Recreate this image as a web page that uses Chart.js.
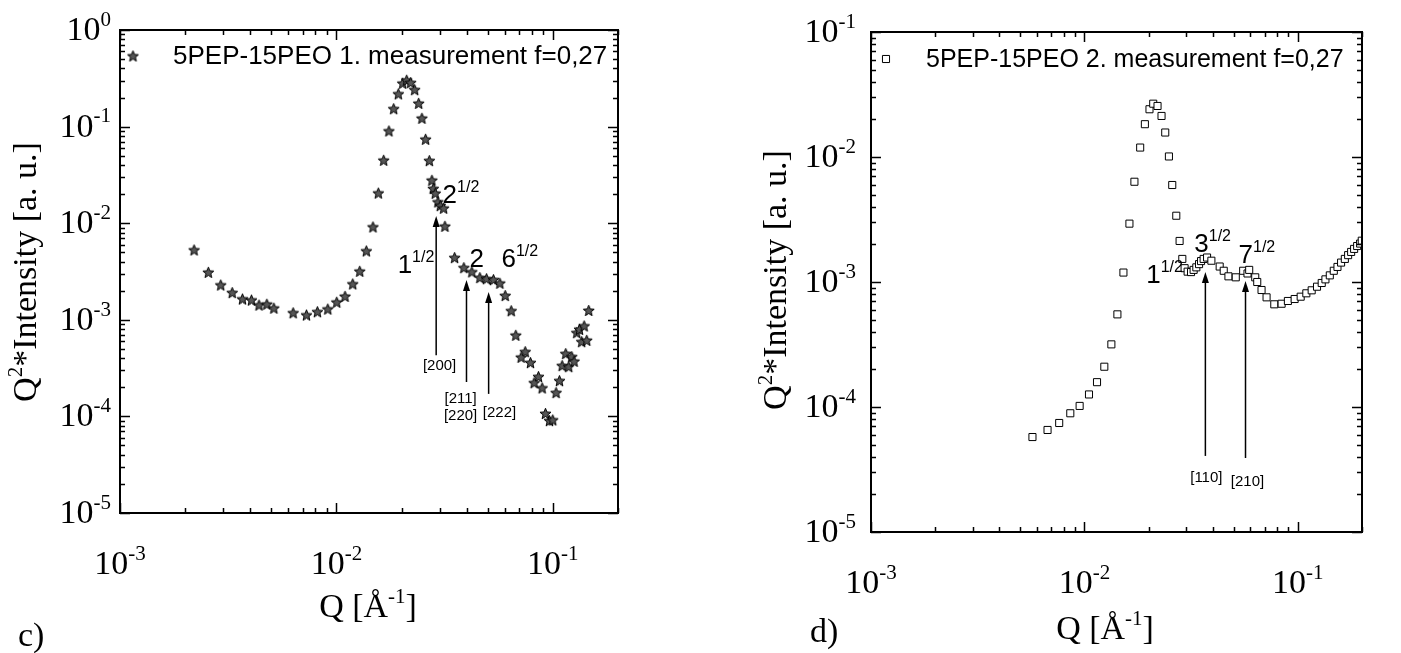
<!DOCTYPE html>
<html>
<head>
<meta charset="utf-8">
<script src="https://cdn.jsdelivr.net/npm/chart.js@4/dist/chart.umd.min.js"></script>
<style>
  html, body { margin: 0; padding: 0; background: #fff; }
  #wrap { position: relative; width: 1401px; height: 653px; }
  #chartC { position: absolute; left: 0; top: 0; }
  #chartD { position: absolute; left: 700px; top: 0; }
</style>
</head>
<body>
<div id="wrap">
  <canvas id="chartC" width="700" height="653"></canvas>
  <canvas id="chartD" width="701" height="653"></canvas>
</div>
<script>
// c) 1. measurement, Q [1/A] and Q^2*I
const qC = [0.00220, 0.00256, 0.00292, 0.00330, 0.00368, 0.00405, 0.00439, 0.00477, 0.00514, 0.00631,
  0.00727, 0.00817, 0.00912, 0.01003, 0.01096, 0.01189, 0.01281, 0.01375, 0.01475, 0.01562,
  0.01653, 0.01748, 0.01838, 0.01932, 0.02023, 0.02111, 0.02203, 0.02298, 0.02398, 0.02483,
  0.02583, 0.02687, 0.02762, 0.02803, 0.02863, 0.02944, 0.03020, 0.03127, 0.03171, 0.03515,
  0.03880, 0.04223, 0.04599, 0.04938, 0.05317, 0.05689, 0.06025, 0.06421, 0.06742, 0.07451,
  0.07140, 0.07880, 0.08584, 0.08198, 0.08925, 0.09243, 0.09645, 0.09988, 0.1035, 0.1073,
  0.1104, 0.1147, 0.1184, 0.1223, 0.1254, 0.1289, 0.1327, 0.1395, 0.1359, 0.1434, 0.1465];
const iC = [0.00528, 0.00310, 0.00229, 0.00191, 0.00164, 0.00160, 0.00142, 0.00145, 0.00132, 0.00118,
  0.00112, 0.00121, 0.00129, 0.00152, 0.00175, 0.00235, 0.00318, 0.00516, 0.00914, 0.0205,
  0.0448, 0.0901, 0.153, 0.218, 0.281, 0.302, 0.285, 0.241, 0.174, 0.122,
  0.0739, 0.0444, 0.0278, 0.0228, 0.0204, 0.0166, 0.0152, 0.0143, 0.00929, 0.00440,
  0.00346, 0.00313, 0.00273, 0.00266, 0.00260, 0.00239, 0.00178, 0.00124, 0.000691, 0.000467,
  0.000409, 0.000360, 0.000258, 0.000223, 0.000197, 0.000107, 0.0000903, 0.0000918, 0.000176, 0.000234,
  0.000335, 0.000446, 0.000327, 0.000415, 0.000372, 0.000735, 0.000797, 0.000863, 0.000593, 0.000613, 0.00125];

// d) 2. measurement
const qD = [0.00571, 0.00672, 0.00762, 0.00859, 0.00950, 0.01051, 0.01146, 0.01240, 0.01338, 0.01428,
  0.01524, 0.01626, 0.01716, 0.01826, 0.01921, 0.02019, 0.02102, 0.02202, 0.02299, 0.02393,
  0.02490, 0.02581, 0.02696, 0.02794, 0.02877, 0.02949, 0.03047, 0.03161, 0.03251, 0.03347,
  0.03447, 0.03522, 0.03622, 0.03758, 0.03937, 0.04306, 0.04498, 0.04733, 0.05122, 0.05548,
  0.05814, 0.05921, 0.06320, 0.06458, 0.06765, 0.07142, 0.07762, 0.08401, 0.08991, 0.09669,
  0.1032, 0.1097, 0.1162, 0.1231, 0.1295, 0.1348, 0.1413, 0.1475, 0.1535, 0.1596,
  0.1662, 0.1722, 0.1779, 0.1837, 0.1898, 0.1960, 0.1995];
const iD = [5.75e-5, 6.55e-5, 7.45e-5, 8.91e-5, 1.02e-4, 1.26e-4, 1.58e-4, 2.10e-4, 3.17e-4, 5.51e-4,
  1.19e-3, 2.93e-3, 6.34e-3, 0.0119, 0.0183, 0.0241, 0.0267, 0.0256, 0.0213, 0.0157,
  0.0101, 5.97e-3, 3.39e-3, 2.13e-3, 1.53e-3, 1.29e-3, 1.21e-3, 1.20e-3, 1.25e-3, 1.31e-3,
  1.39e-3, 1.47e-3, 1.53e-3, 1.57e-3, 1.48e-3, 1.33e-3, 1.23e-3, 1.11e-3, 1.09e-3, 1.23e-3,
  1.17e-3, 1.25e-3, 1.09e-3, 1.00e-3, 8.63e-4, 7.54e-4, 6.63e-4, 6.70e-4, 7.05e-4, 7.31e-4,
  7.63e-4, 8.12e-4, 8.58e-4, 9.17e-4, 9.82e-4, 1.05e-3, 1.13e-3, 1.23e-3, 1.32e-3, 1.43e-3,
  1.53e-3, 1.64e-3, 1.74e-3, 1.84e-3, 1.94e-3, 2.03e-3, 2.14e-3];

const legendC = '5PEP-15PEO 1. measurement f=0,27';
const legendD = '5PEP-15PEO 2. measurement f=0,27';

// arrows: [q, tail intensity, head intensity]
const arrowsC = [[0.0289, 4.3e-4, 0.0119], [0.0399, 2.27e-4, 2.58e-3], [0.0505, 1.71e-4, 1.94e-3]];
const arrowsD = [[0.0369, 4.06e-5, 1.20e-3], [0.0569, 3.91e-5, 1.02e-3]];
// peak ratios: [base, superscript, q, intensity] (left/baseline of the base text)
const ratiosC = [['1', '1/2', 0.01918, 3.05e-3], ['2', '1/2', 0.03095, 0.01619], ['2', '', 0.04122, 3.52e-3], ['6', '1/2', 0.05791, 3.52e-3]];
const ratiosD = [['1', '1/2', 0.01949, 9.82e-4], ['3', '1/2', 0.03275, 1.738e-3], ['7', '1/2', 0.05277, 1.419e-3]];
// Miller indices: [text, q, intensity] (centre)
const millerC = [['[200]', 0.02997, 3.33e-4], ['[211]', 0.03747, 1.51e-4], ['[220]', 0.03747, 1.009e-4], ['[222]', 0.0567, 1.084e-4]];
const millerD = [['[110]', 0.03729, 2.70e-5], ['[210]', 0.05814, 2.51e-5]];

const SERIF = '"Liberation Serif", "Times New Roman", serif';
const SANS = '"Liberation Sans", Arial, sans-serif';

function starImage() {
    let c = document.createElement('canvas');
    c.width = 13; c.height = 13;
    let g = c.getContext('2d');
    g.beginPath();
    for (let k = 0; k < 10; k++) {
        let r = k % 2 === 0 ? 5.8 : 2.5;
        let a = -Math.PI / 2 + k * Math.PI / 5;
        let px = 6.5 + r * Math.cos(a), py = 7 + r * Math.sin(a);
        if (k === 0) g.moveTo(px, py); else g.lineTo(px, py);
    }
    g.closePath();
    g.fillStyle = '#555';
    g.fill();
    g.strokeStyle = '#000';
    g.lineWidth = 1;
    g.stroke();
    return c;
}

// draw text pieces with superscripts, returns total width
function drawRich(ctx, x, y, segs, size, family, align) {
    let supSize = Math.round(size * 0.62);
    let w = 0;
    segs.forEach((s) => {
        ctx.font = (s.sup ? supSize : size) + 'px ' + family;
        s.w = ctx.measureText(s.t).width;
        w += s.w;
    });
    let cx = x;
    if (align === 'center') cx = x - w / 2;
    if (align === 'right') cx = x - w;
    ctx.textAlign = 'left';
    ctx.textBaseline = 'alphabetic';
    segs.forEach((s) => {
        ctx.font = (s.sup ? supSize : size) + 'px ' + family;
        ctx.fillText(s.t, cx, s.sup ? y - size * 0.42 : y);
        cx += s.w;
    });
    return w;
}

function logTicks(min, max) {
    let out = [];
    for (let d = Math.floor(Math.log10(min)); d <= Math.ceil(Math.log10(max)); d++) {
        for (let k = 1; k <= 9; k++) {
            let v = k * Math.pow(10, d);
            if (v >= min * 0.999 && v <= max * 1.001) out.push({ v: v, major: k === 1, exp: d });
        }
    }
    return out;
}

const framePlugin = {
    id: 'frame',
    afterDraw(chart, args, o) {
        const ctx = chart.ctx;
        const a = chart.chartArea;
        const x = chart.scales.x, y = chart.scales.y;
        ctx.save();
        ctx.strokeStyle = '#000';
        ctx.fillStyle = '#000';
        ctx.lineWidth = 1.5;
        ctx.beginPath();
        logTicks(x.min, x.max).forEach((t) => {
            let px = Math.round(x.getPixelForValue(t.v)) + 0.5;
            let len = t.major ? 10 : 5;
            ctx.moveTo(px, a.bottom); ctx.lineTo(px, a.bottom - len);
            ctx.moveTo(px, a.top); ctx.lineTo(px, a.top + len);
        });
        logTicks(y.min, y.max).forEach((t) => {
            let py = Math.round(y.getPixelForValue(t.v)) + 0.5;
            let len = t.major ? 10 : 5;
            ctx.moveTo(a.left, py); ctx.lineTo(a.left + len, py);
            ctx.moveTo(a.right, py); ctx.lineTo(a.right - len, py);
        });
        ctx.stroke();
        ctx.lineWidth = 2;
        ctx.strokeRect(a.left, a.top, a.right - a.left, a.bottom - a.top);

        // tick labels
        logTicks(x.min, x.max).filter((t) => t.major).forEach((t) => {
            drawRich(ctx, x.getPixelForValue(t.v), o.xLabelY, [{ t: '10' }, { t: String(t.exp), sup: true }], o.fontSize, SERIF, 'center');
        });
        logTicks(y.min, y.max).filter((t) => t.major).forEach((t) => {
            drawRich(ctx, o.yLabelX, y.getPixelForValue(t.v) + o.yLabelDy, [{ t: '10' }, { t: String(t.exp), sup: true }], o.fontSize, SERIF, 'right');
        });

        // axis titles
        drawRich(ctx, o.xTitle[0], o.xTitle[1], [{ t: 'Q [\u00C5' }, { t: '-1', sup: true }, { t: ']' }], o.titleSize, SERIF, 'center');
        ctx.save();
        ctx.translate(o.yTitle[0], o.yTitle[1]);
        ctx.rotate(-Math.PI / 2);
        drawRich(ctx, 0, 0, [{ t: 'Q' }, { t: '2', sup: true }, { t: '*Intensity [a. u.]' }], o.titleSize, SERIF, 'center');
        ctx.restore();
        ctx.font = o.titleSize + 'px ' + SERIF;
        ctx.textAlign = 'left';
        ctx.fillText(o.panel, o.panelPos[0], o.panelPos[1]);

        // legend
        const ds = chart.data.datasets[0];
        ctx.fillStyle = ds.backgroundColor;
        ctx.lineWidth = 1;
        Chart.helpers.drawPoint(ctx, {
            pointStyle: ds.pointStyle, radius: ds.pointRadius, borderWidth: 1
        }, a.left + o.legendMarkX, a.top + o.legendY);
        ctx.fillStyle = '#000';
        ctx.font = o.legendSize + 'px ' + SANS;
        ctx.textAlign = 'left';
        ctx.textBaseline = 'middle';
        ctx.fillText(ds.label, a.left + o.legendTextX, a.top + o.legendY + 1);

        // arrows
        ctx.lineWidth = 1.5;
        o.arrows.forEach((ar) => {
            let px = x.getPixelForValue(ar[0]);
            let y0 = y.getPixelForValue(ar[1]), y1 = y.getPixelForValue(ar[2]);
            ctx.beginPath();
            ctx.moveTo(px, y0); ctx.lineTo(px, y1 + 8);
            ctx.stroke();
            ctx.beginPath();
            ctx.moveTo(px, y1); ctx.lineTo(px - 3.5, y1 + 11); ctx.lineTo(px + 3.5, y1 + 11);
            ctx.closePath();
            ctx.fill();
        });
        o.ratios.forEach((r) => {
            let segs = [{ t: r[0] }];
            if (r[1]) segs.push({ t: r[1], sup: true });
            drawRich(ctx, x.getPixelForValue(r[2]), y.getPixelForValue(r[3]), segs, 26, SANS, 'left');
        });
        ctx.font = '15px ' + SANS;
        ctx.textAlign = 'center';
        ctx.textBaseline = 'middle';
        o.miller.forEach((m) => {
            ctx.fillText(m[0], x.getPixelForValue(m[1]), y.getPixelForValue(m[2]));
        });
        ctx.restore();
    }
};

function chart(id, qs, is, label, style, radius, fill, yMin, yMax, pad, opts) {
    let points = qs.map((q, k) => ({ x: q, y: is[k] }));
    new Chart(document.getElementById(id), {
        type: 'scatter',
        data: {
            datasets: [{
                label: label,
                data: points,
                pointStyle: style,
                pointRadius: radius,
                pointHoverRadius: radius,
                backgroundColor: fill,
                borderColor: '#000',
                borderWidth: 1,
            }]
        },
        options: {
            responsive: false,
            animation: false,
            devicePixelRatio: 1,
            layout: { padding: pad },
            scales: {
                x: { type: 'logarithmic', min: 0.001, max: 0.2, display: false },
                y: { type: 'logarithmic', min: yMin, max: yMax, display: false }
            },
            plugins: {
                legend: { display: false },
                tooltip: { enabled: false },
                frame: opts
            }
        },
        plugins: [framePlugin]
    });
}

window.addEventListener('DOMContentLoaded', (event) => {
    const star = starImage();
    chart('chartC', qC, iC, legendC, star, 6, '#555', 1e-5, 1,
        { left: 120, top: 30, right: 82, bottom: 140 },
        {
            fontSize: 34, titleSize: 34, legendSize: 26,
            xLabelY: 574, yLabelX: 111, yLabelDy: 10,
            xTitle: [368, 617], yTitle: [36, 272], panel: 'c)', panelPos: [18, 646],
            legendMarkX: 13, legendY: 26, legendTextX: 53,
            arrows: arrowsC, ratios: ratiosC, miller: millerC
        });
    chart('chartD', qD, iD, legendD, 'rect', 5, '#fff', 1e-5, 0.1,
        { left: 171, top: 32, right: 39, bottom: 121 },
        {
            fontSize: 34, titleSize: 34, legendSize: 25,
            xLabelY: 593, yLabelX: 156, yLabelDy: 10,
            xTitle: [405, 639], yTitle: [86, 280], panel: 'd)', panelPos: [110, 642],
            legendMarkX: 15, legendY: 27, legendTextX: 55,
            arrows: arrowsD, ratios: ratiosD, miller: millerD
        });
});
</script>
</body>
</html>
